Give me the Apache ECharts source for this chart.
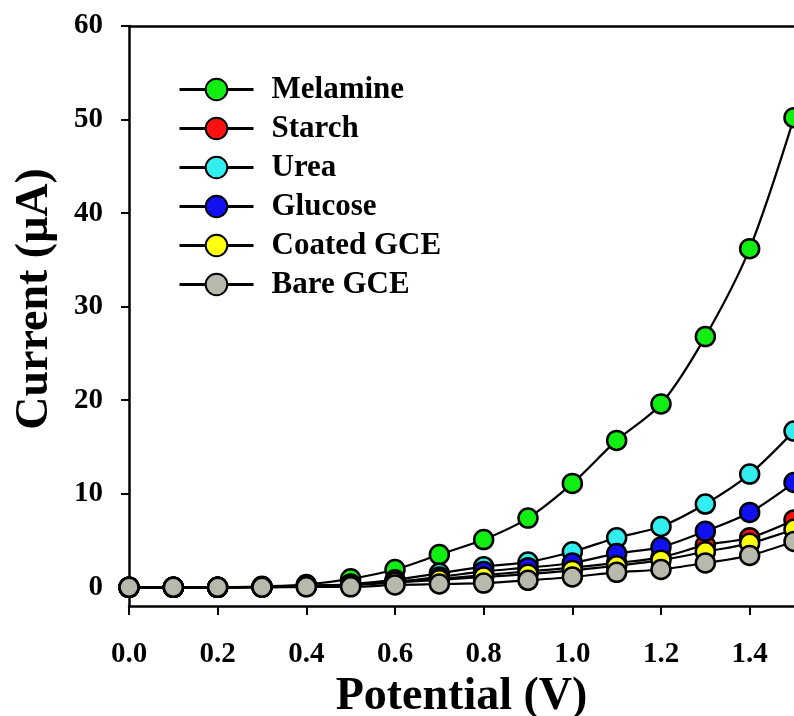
<!DOCTYPE html>
<html>
<head>
<meta charset="utf-8">
<script src="https://cdn.jsdelivr.net/npm/echarts@6/dist/echarts.min.js"></script>
<style>
  html, body { margin: 0; padding: 0; background: #fff; }
  #chart { width: 794px; height: 716px; }
</style>
</head>
<body>
<div id="chart"></div>
<script>
// potential (V)
const potential = [0, 0.1, 0.2, 0.3, 0.4, 0.5, 0.6, 0.7, 0.8, 0.9, 1.0, 1.1, 1.2, 1.3, 1.4, 1.5];
// current (uA)
const melamine = [0, 0, 0, 0.1, 0.3, 0.9, 1.9, 3.5, 5.1, 7.4, 11.1, 15.7, 19.6, 26.8, 36.2, 50.2];
const starch   = [0, 0, 0, 0.05, 0.15, 0.3, 0.6, 0.9, 1.3, 1.7, 2.1, 2.6, 3.2, 4.5, 5.3, 7.2];
const urea     = [0, 0, 0, 0.05, 0.15, 0.35, 0.8, 1.5, 2.2, 2.7, 3.8, 5.3, 6.5, 8.9, 12.1, 16.7];
const glucose  = [0, 0, 0, 0.05, 0.15, 0.3, 0.6, 1.1, 1.7, 2.1, 2.6, 3.6, 4.3, 6.0, 8.0, 11.2];
const coated   = [0, 0, 0, 0.05, 0.1, 0.25, 0.5, 0.8, 1.1, 1.4, 1.8, 2.3, 2.9, 3.8, 4.7, 6.2];
const bare     = [0, 0, 0, 0, 0.05, 0.05, 0.25, 0.35, 0.45, 0.75, 1.1, 1.6, 1.9, 2.6, 3.4, 4.9];

const xTicks = [0, 0.2, 0.4, 0.6, 0.8, 1.0, 1.2, 1.4];
const yTicks = [0, 10, 20, 30, 40, 50, 60];

const names  = ['Melamine', 'Starch', 'Urea', 'Glucose', 'Coated GCE', 'Bare GCE'];
const values = [melamine, starch, urea, glucose, coated, bare];
const colors = ['#11ee11', '#ff1010', '#33eeee', '#1010f0', '#ffff10', '#b8b8ac'];

const font = '"Liberation Serif", "Times New Roman", serif';

let myChart = echarts.init(document.getElementById('chart'));

let series = names.map(function (n, i) {
  return {
    name: n,
    type: 'line',
    data: potential.map(function (x, j) { return [x, values[i][j]]; }),
    smooth: 0.3,
    clip: false,
    symbol: 'circle',
    symbolSize: 19,
    lineStyle: { color: '#000', width: 2.2 },
    itemStyle: { color: colors[i], borderColor: '#000', borderWidth: 2.5 }
  };
});

let option = {
  backgroundColor: '#fff',
  animation: false,
  grid: { left: 129, right: 0, top: 26, bottom: 110, containLabel: false, outerBoundsMode: 'none' },
  legend: {
    orient: 'vertical',
    left: 173,
    top: 69,
    itemWidth: 74,
    itemHeight: 27,
    itemGap: 8,
    data: names,
    lineStyle: { width: 3 },
    textStyle: {
      fontFamily: font, fontWeight: 'bold', fontSize: 31, lineHeight: 31, color: '#000',
      padding: [0, 0, 0, 13]
    }
  },
  xAxis: [{
    type: 'value',
    min: 0,
    max: 1.5,
    name: 'Potential (V)',
    nameLocation: 'middle',
    nameGap: 66,
    nameTextStyle: { fontFamily: font, fontWeight: 'bold', fontSize: 46, color: '#000' },
    splitLine: { show: false },
    axisLine: { onZero: false, lineStyle: { color: '#000', width: 2.5 } },
    axisTick: { customValues: xTicks, length: 9, lineStyle: { color: '#000', width: 2 } },
    axisLabel: {
      customValues: xTicks,
      margin: 34,
      formatter: function (v) { return v.toFixed(1); },
      fontFamily: font, fontWeight: 'bold', fontSize: 29, color: '#000'
    }
  }, {
    type: 'value',
    position: 'top',
    min: 0,
    max: 1.5,
    splitLine: { show: false },
    axisLine: { onZero: false, lineStyle: { color: '#000', width: 2.5 } },
    axisTick: { show: false },
    axisLabel: { show: false }
  }],
  yAxis: {
    type: 'value',
    min: -2,
    max: 60,
    name: 'Current (μA)',
    nameLocation: 'middle',
    nameGap: 71,
    nameTextStyle: {
      fontFamily: font, fontWeight: 'bold', fontSize: 46, color: '#000',
      padding: [0, 0, 0, 34]
    },
    splitLine: { show: false },
    axisLine: { onZero: false, lineStyle: { color: '#000', width: 2.5 } },
    axisTick: { customValues: yTicks, length: 8, lineStyle: { color: '#000', width: 2 } },
    axisLabel: {
      customValues: yTicks,
      margin: 26,
      fontFamily: font, fontWeight: 'bold', fontSize: 29, color: '#000'
    }
  },
  series: series
};

myChart.setOption(option);
</script>
</body>
</html>
